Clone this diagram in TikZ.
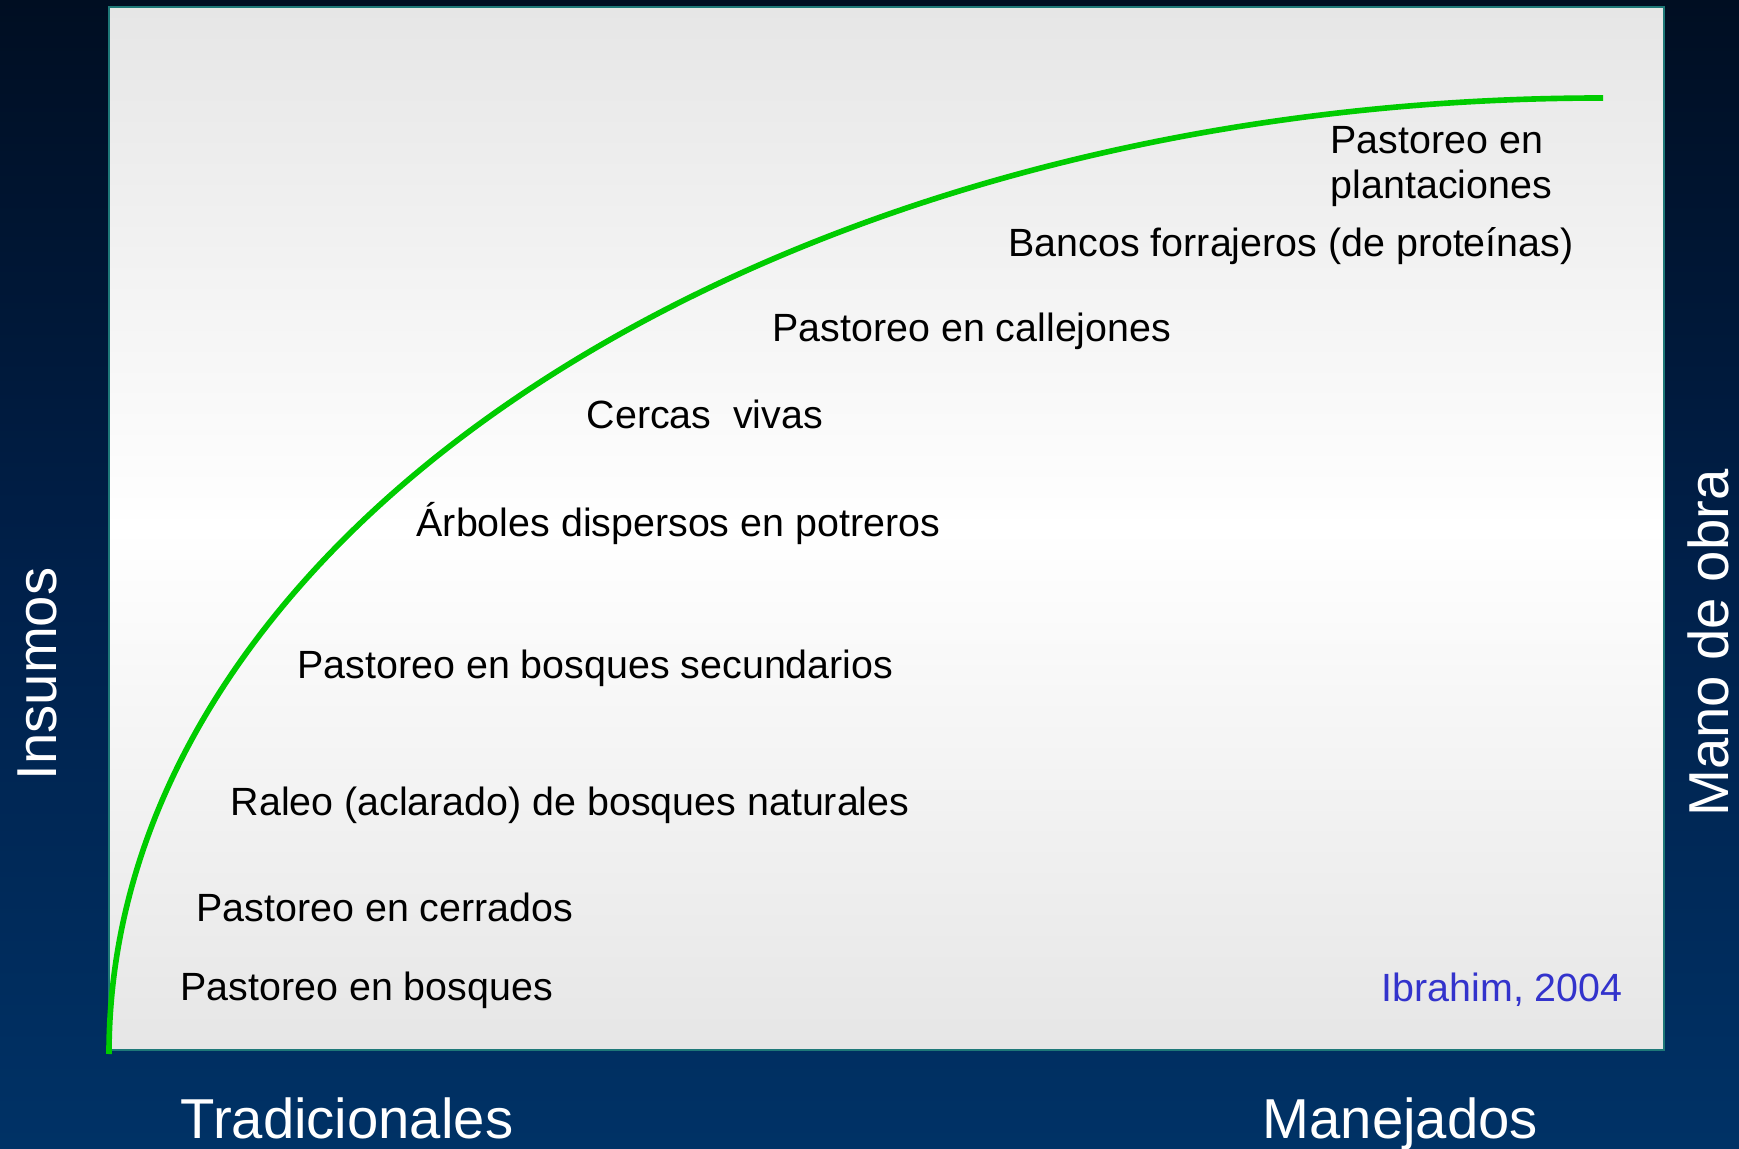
\documentclass[tikz,border=0pt]{standalone}
\usepackage{fontspec}
\setmainfont{Liberation Sans}
\definecolor{bgtop}{RGB}{0,14,34}
\definecolor{bgmid}{RGB}{0,32,74}
\definecolor{bgbot}{RGB}{0,50,102}
\definecolor{boxtop}{RGB}{230,230,230}
\definecolor{boxedge}{RGB}{30,120,120}
\definecolor{curvegreen}{RGB}{0,204,0}
\definecolor{citeblue}{RGB}{51,51,204}

\begin{document}
\begin{tikzpicture}[x=0.01cm,y=0.01cm,
  item/.style={anchor=west,inner sep=0pt,font=\fontsize{11.2}{12.8}\selectfont},
  axislabel/.style={text=white,inner sep=0pt,font=\fontsize{16}{19}\selectfont}]
\useasboundingbox (0,0) rectangle (1739,1148);
\shade[top color=bgtop,bottom color=bgbot,middle color=bgmid] (0,0) rectangle (1739,1148);
\shade[top color=boxtop,bottom color=boxtop,middle color=white] (109,98) rectangle (1664,1141);
\draw[boxedge,line width=0.6pt] (109,98) rectangle (1664,1141);
\draw[curvegreen,line width=1.6pt] (109,94) arc[start angle=180,end angle=90,x radius=1494,y radius=956];
\node[item] (bosques) at (180,158) {Pastoreo en bosques};
\node[item] (cerrados) at (196,241) {Pastoreo en cerrados};
\node[item] (raleo) at (230,343) {Raleo (aclarado) de bosques naturales};
\node[item] (secundarios) at (297,480) {Pastoreo en bosques secundarios};
\node[item] (arboles) at (416,624) {Árboles dispersos en potreros};
\node[item] (cercas) at (586,734) {Cercas\ \ vivas};
\node[item] (callejones) at (772,817) {Pastoreo en callejones};
\node[item] (bancos) at (1008,902) {Bancos forrajeros (de proteínas)};
\node[item,align=left] (plantaciones) at (1330,981) {Pastoreo en\\plantaciones};
\node[item,text=citeblue] (cita) at (1381,158) {Ibrahim, 2004};
\node[axislabel,anchor=base west] (tradicionales) at (180,10) {Tradicionales};
\node[axislabel,anchor=base west] (manejados) at (1262,10) {Manejados};
\node[axislabel,rotate=90,anchor=base] (insumos) at (57,474) {Insumos};
\node[axislabel,rotate=90,anchor=base] (manoobra) at (1728,505) {Mano de obra};
\end{tikzpicture}
\end{document}
